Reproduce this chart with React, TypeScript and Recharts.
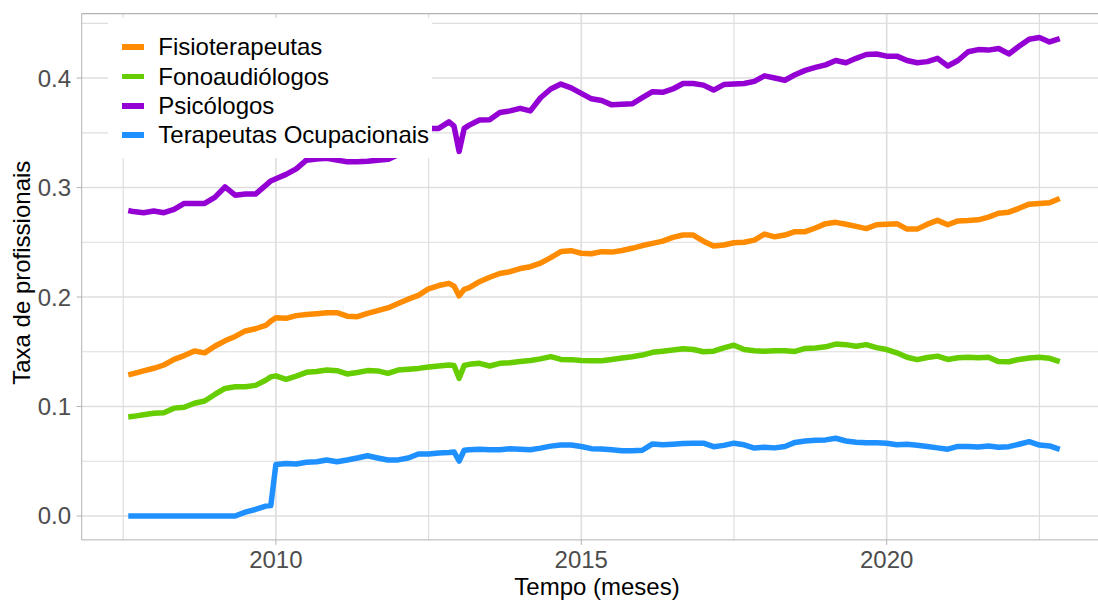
import { CartesianGrid, Label, Legend, Line, LineChart, ReferenceLine, XAxis, YAxis } from 'recharts';

// monthly series, sampled every ~2 months (plus the months around the jumps/dips)
const months = [
  '2007-08', '2007-09', '2007-11',
  '2008-01', '2008-03', '2008-05', '2008-07', '2008-09', '2008-11',
  '2009-01', '2009-03', '2009-05', '2009-07', '2009-09', '2009-11', '2009-12',
  '2010-01', '2010-03', '2010-05', '2010-07', '2010-09', '2010-11',
  '2011-01', '2011-03', '2011-05', '2011-07', '2011-09', '2011-11',
  '2012-01', '2012-03', '2012-05', '2012-07', '2012-09', '2012-11', '2012-12',
  '2013-01', '2013-02', '2013-03', '2013-05', '2013-07', '2013-09', '2013-11',
  '2014-01', '2014-03', '2014-05', '2014-07', '2014-09', '2014-11',
  '2015-01', '2015-03', '2015-05', '2015-07', '2015-09', '2015-11',
  '2016-01', '2016-03', '2016-05', '2016-07', '2016-09', '2016-11',
  '2017-01', '2017-03', '2017-05', '2017-07', '2017-09', '2017-11',
  '2018-01', '2018-03', '2018-05', '2018-07', '2018-09', '2018-11',
  '2019-01', '2019-03', '2019-05', '2019-07', '2019-09', '2019-11',
  '2020-01', '2020-03', '2020-05', '2020-07', '2020-09', '2020-11',
  '2021-01', '2021-03', '2021-05', '2021-07', '2021-09', '2021-11',
  '2022-01', '2022-03', '2022-05', '2022-07', '2022-09', '2022-11',
];

const fisioterapeutas = [
  0.1288, 0.130, 0.1325,
  0.1349, 0.1379, 0.143, 0.1465, 0.1507, 0.149,
  0.155, 0.160, 0.164, 0.169, 0.171, 0.174, 0.178,
  0.181, 0.1805, 0.183, 0.184, 0.1848, 0.1857,
  0.1857, 0.1825, 0.182, 0.185, 0.1875, 0.190,
  0.194, 0.198, 0.2015, 0.2075, 0.2105, 0.2125, 0.210,
  0.201, 0.207, 0.2085, 0.214, 0.218, 0.2215, 0.2231,
  0.226, 0.2277, 0.231, 0.236, 0.2415, 0.2423,
  0.240, 0.2395, 0.2414, 0.241, 0.2425, 0.2445,
  0.247, 0.249, 0.251, 0.2545, 0.2566, 0.2566,
  0.251, 0.2466, 0.2475, 0.2496, 0.250, 0.252,
  0.2575, 0.255, 0.2566, 0.2597, 0.2597, 0.263,
  0.267, 0.2682, 0.2665, 0.2645, 0.2625, 0.266,
  0.2665, 0.267, 0.262, 0.262, 0.2665, 0.270,
  0.266, 0.2695, 0.2698, 0.2705, 0.273, 0.2765,
  0.2775, 0.281, 0.2848, 0.2855, 0.286, 0.290,
];

const fonoaudiologos = [
  0.0905, 0.091, 0.0925,
  0.0938, 0.0943, 0.0985, 0.0993, 0.103, 0.105,
  0.111, 0.1165, 0.118, 0.118, 0.1193, 0.124, 0.127,
  0.128, 0.1248, 0.1278, 0.1312, 0.132, 0.1333,
  0.1327, 0.1297, 0.131, 0.1328, 0.1325, 0.1303,
  0.1333, 0.134, 0.1348, 0.136, 0.137, 0.1379, 0.1375,
  0.1257, 0.1375, 0.1385, 0.1394, 0.137, 0.1394, 0.140,
  0.141, 0.142, 0.1435, 0.1455, 0.143, 0.1428,
  0.142, 0.1418, 0.1418, 0.143, 0.1443, 0.1455,
  0.147, 0.1495, 0.1505, 0.1516, 0.1528, 0.152,
  0.150, 0.1505, 0.1535, 0.156, 0.152, 0.151,
  0.1505, 0.151, 0.151, 0.1503, 0.153, 0.1535,
  0.1545, 0.157, 0.1565, 0.155, 0.1565, 0.1538,
  0.152, 0.149, 0.145, 0.1428, 0.1448, 0.146,
  0.143, 0.1445, 0.1449, 0.1445, 0.1449, 0.141,
  0.1409, 0.143, 0.1443, 0.1449, 0.144, 0.1409,
];

const psicologos = [
  0.279, 0.278, 0.277,
  0.2785, 0.277, 0.280, 0.2855, 0.2855, 0.2855,
  0.291, 0.3005, 0.293, 0.294, 0.294, 0.302, 0.306,
  0.308, 0.312, 0.317, 0.325, 0.326, 0.3267,
  0.325, 0.3236, 0.3236, 0.324, 0.325, 0.3257,
  0.330, 0.338, 0.347, 0.354, 0.354, 0.360, 0.356,
  0.333, 0.354, 0.357, 0.3616, 0.362, 0.3685, 0.370,
  0.3723, 0.370, 0.382, 0.390, 0.3945, 0.391,
  0.386, 0.381, 0.3795, 0.3755, 0.376, 0.3765,
  0.382, 0.3875, 0.387, 0.390, 0.395, 0.395,
  0.3935, 0.389, 0.394, 0.3945, 0.395, 0.397,
  0.402, 0.400, 0.398, 0.403, 0.407, 0.4097,
  0.412, 0.416, 0.414, 0.418, 0.4215, 0.422,
  0.420, 0.420, 0.416, 0.414, 0.415, 0.418,
  0.411, 0.416, 0.424, 0.426, 0.4255, 0.427,
  0.422, 0.429, 0.4355, 0.437, 0.433, 0.436,
];

const terapeutasOcupacionais = [
  0, 0, 0,
  0, 0, 0, 0, 0, 0,
  0, 0, 0, 0.0035, 0.006, 0.009, 0.0095,
  0.047, 0.048, 0.0475, 0.049, 0.0495, 0.0511,
  0.0496, 0.0511, 0.053, 0.055, 0.053, 0.0511,
  0.0512, 0.053, 0.0566, 0.0566, 0.0575, 0.058, 0.0585,
  0.0502, 0.060, 0.0605, 0.0609, 0.0606, 0.0605, 0.0615,
  0.061, 0.0605, 0.062, 0.0638, 0.0648, 0.0648,
  0.0635, 0.0615, 0.0612, 0.0605, 0.0596, 0.0596,
  0.060, 0.0658, 0.065, 0.0655, 0.0662, 0.0665,
  0.0665, 0.0633, 0.0645, 0.0665, 0.065, 0.062,
  0.0628, 0.0622, 0.0635, 0.0672, 0.0685, 0.0692,
  0.0695, 0.071, 0.0685, 0.0674, 0.0669, 0.0669,
  0.0665, 0.065, 0.0655, 0.0645, 0.0635, 0.0622,
  0.061, 0.0635, 0.0635, 0.063, 0.064, 0.0628,
  0.0633, 0.0655, 0.0679, 0.0648, 0.064, 0.0609,
];

const xTicks = [2010, 2015, 2020];
const xMinor = [2007.5, 2012.5, 2017.5, 2022.5];
const yTicks = [0, 0.1, 0.2, 0.3, 0.4];
const yMinor = [0.05, 0.15, 0.25, 0.35, 0.45];

const series = [
  { key: 'fisio', name: 'Fisioterapeutas', color: '#FF8C00', values: fisioterapeutas },
  { key: 'fono', name: 'Fonoaudiólogos', color: '#66CD00', values: fonoaudiologos },
  { key: 'psi', name: 'Psicólogos', color: '#9400D3', values: psicologos },
  { key: 'to', name: 'Terapeutas Ocupacionais', color: '#1E90FF', values: terapeutasOcupacionais },
];

const data = months.map((m, i) => {
  const [yr, mo] = m.split('-').map(Number);
  const row: Record<string, number> = { t: yr + (mo - 1) / 12 };
  series.forEach((s) => (row[s.key] = s.values[i]));
  return row;
});

// ggplot default: 5% expansion on each side
const expand = (lo: number, hi: number) => [lo - (hi - lo) * 0.05, hi + (hi - lo) * 0.05];
const times = data.map((d) => d.t);
const allValues = series.flatMap((s) => s.values);
const xDomain = expand(Math.min(...times), Math.max(...times));
const yDomain = expand(Math.min(...allValues), Math.max(...allValues));

const FONT = '"Liberation Sans", Arial, sans-serif';
const BORDER = '#B3B3B3';
const GRID = '#DEDEDE';

function LegendBox() {
  return (
    <div style={{ background: '#fff', width: 324, height: 140, paddingTop: 14.6, boxSizing: 'border-box', fontFamily: FONT }}>
      {series.map((s) => (
        <div key={s.key} style={{ display: 'flex', alignItems: 'center', height: 29.3 }}>
          <span style={{ display: 'inline-block', width: 22.6, height: 5.5, background: s.color, marginLeft: 13.7 }} />
          <span style={{ marginLeft: 14, fontSize: 24, color: '#000', whiteSpace: 'nowrap' }}>{s.name}</span>
        </div>
      ))}
    </div>
  );
}

function XTitle(props: any) {
  const vb = props.viewBox;
  return (
    <text x={vb.x + vb.width / 2 + 3} y={vb.y + 55} textAnchor="middle" fontSize={24} fontFamily={FONT} fill="#000">
      Tempo (meses)
    </text>
  );
}

function YTitle(props: any) {
  const vb = props.viewBox;
  const cy = vb.y + vb.height / 2 - 4;
  return (
    <text x={30} y={cy} transform={`rotate(-90, 30, ${cy})`} textAnchor="middle" fontSize={24} fontFamily={FONT} fill="#000">
      Taxa de profissionais
    </text>
  );
}

export default function App() {
  return (
    <div style={{ width: 1098, height: 601, overflow: 'hidden', position: 'relative', background: '#fff' }}>
      <style>{'body { margin: 0; }'}</style>
      <LineChart width={1110} height={601} data={data} margin={{ top: 13.6, right: 3.7, bottom: 0, left: 0 }}>
        <CartesianGrid verticalValues={xMinor} horizontalValues={yMinor} stroke={GRID} strokeWidth={1.2} />
        <CartesianGrid verticalValues={xTicks} horizontalValues={yTicks} stroke={GRID} strokeWidth={1.6} />
        <XAxis
          type="number"
          dataKey="t"
          domain={xDomain}
          allowDataOverflow
          ticks={xTicks}
          tickFormatter={(v) => String(v)}
          height={61.1}
          stroke={BORDER}
          tickSize={5}
          tickMargin={6}
          tick={{ fill: '#4D4D4D', fontSize: 24, fontFamily: FONT }}
        >
          <Label content={XTitle} />
        </XAxis>
        <YAxis
          type="number"
          domain={yDomain}
          allowDataOverflow
          ticks={yTicks}
          tickFormatter={(v) => Number(v).toFixed(1)}
          width={81.7}
          stroke={BORDER}
          tickSize={5}
          tickMargin={5.7}
          tick={{ fill: '#4D4D4D', fontSize: 24, fontFamily: FONT }}
        >
          <Label content={YTitle} />
        </YAxis>
        <ReferenceLine y={yDomain[1]} stroke={BORDER} strokeWidth={1.3} />
        {series.map((s) => (
          <Line
            key={s.key}
            type="linear"
            dataKey={s.key}
            name={s.name}
            stroke={s.color}
            strokeWidth={5.5}
            strokeLinejoin="round"
            strokeLinecap="butt"
            dot={false}
            activeDot={false}
            isAnimationActive={false}
          />
        ))}
        <Legend
          layout="vertical"
          align="center"
          verticalAlign="middle"
          content={() => <LegendBox />}
          wrapperStyle={{ position: 'absolute', left: 108, top: 18, width: 324, height: 140 }}
        />
      </LineChart>
    </div>
  );
}
